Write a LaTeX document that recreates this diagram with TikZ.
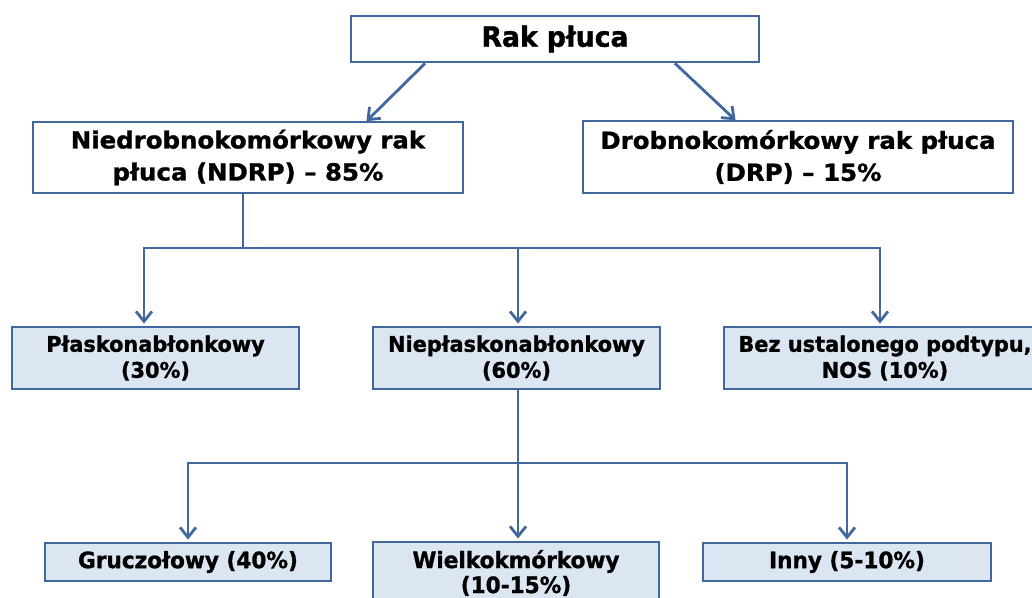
\documentclass[tikz,border=0pt]{standalone}
\usepackage{fontspec}
\setmainfont{DejaVu Sans}
\newfontfamily\famtop[FakeStretch=0.95,FakeBold=1.2]{DejaVu Sans}
\newfontfamily\famone[FakeStretch=1.04,FakeBold=1.2]{DejaVu Sans}
\newfontfamily\famtwo[FakeStretch=0.97,FakeBold=1.2]{DejaVu Sans}
\newfontfamily\famthree[FakeStretch=0.96,FakeBold=1.2]{DejaVu Sans}
\usetikzlibrary{arrows.meta}
\definecolor{bord}{HTML}{41679C}
\definecolor{boxfill}{HTML}{DCE6F2}
\begin{document}
\begin{tikzpicture}[x=1pt,y=-1pt,
  box/.style={draw=bord, line width=2.8pt, rectangle, inner sep=0pt, align=center, text=black},
  wbox/.style={box, fill=white},
  bbox/.style={box, fill=boxfill},
  ftop/.style={font=\famtop\fontsize{28}{30}\selectfont\bfseries},
  fone/.style={font=\famone\fontsize{23.5}{32}\selectfont\bfseries},
  ftwo/.style={font=\famtwo\fontsize{21.5}{26}\selectfont\bfseries},
  fthree/.style={font=\famthree\fontsize{22.5}{25}\selectfont\bfseries},
  conn/.style={draw=bord, line width=2.8pt},
  arr/.style={conn, -{Straight Barb[length=10pt,width=16pt,line width=2.8pt]}, shorten >=2pt}]
\useasboundingbox (0,0) rectangle (1032,597);
\clip (0,0) rectangle (1032,597);
\node[wbox, ftop, minimum width=408pt, minimum height=46pt] (top) at (555,39) {Rak płuca};
\node[wbox, fone, minimum width=430pt, minimum height=71pt] (ndrp) at (248,157.5) {Niedrobnokomórkowy rak\\płuca (NDRP) – 85\%};
\node[wbox, fone, minimum width=430pt, minimum height=72pt] (drp) at (798,157) {Drobnokomórkowy rak płuca\\(DRP) – 15\%};
\node[bbox, ftwo, minimum width=287pt, minimum height=62pt] (plask) at (155.5,358) {Płaskonabłonkowy\\(30\%)};
\node[bbox, ftwo, minimum width=287pt, minimum height=62pt] (niepl) at (516.5,358) {Niepłaskonabłonkowy\\(60\%)};
\node[bbox, ftwo, minimum width=322pt, minimum height=62pt] (bez) at (885,358) {Bez ustalonego podtypu,\\NOS (10\%)};
\node[bbox, fthree, minimum width=286pt, minimum height=38pt] (gru) at (188,562) {Gruczołowy (40\%)};
\node[bbox, fthree, minimum width=286pt, minimum height=62pt] (wiel) at (516,573) {Wielkokmórkowy\\(10-15\%)};
\node[bbox, fthree, minimum width=288pt, minimum height=38pt] (inny) at (847,562) {Inny (5-10\%)};
\draw[arr] ([xshift=-130pt]top.south) -- ([xshift=117pt,yshift=-2pt]ndrp.north);
\draw[arr] ([xshift=120pt]top.south) -- ([xshift=-61pt,yshift=-2pt]drp.north);
\coordinate (j1) at (243,248);
\draw[conn] (ndrp.south -| j1) -- (j1);
\draw[arr] (j1) -| ([xshift=-11.5pt]plask.north);
\draw[arr] (j1) -| ([xshift=1.5pt]niepl.north);
\draw[arr] (j1) -| ([xshift=-5pt]bez.north);
\coordinate (j2) at (518,463);
\draw[conn] (niepl.south -| j2) -- (j2);
\draw[arr] (j2) -| (gru.north);
\draw[arr] (j2) -| ([xshift=2pt]wiel.north);
\draw[arr] (j2) -| (inny.north);
\end{tikzpicture}
\end{document}
